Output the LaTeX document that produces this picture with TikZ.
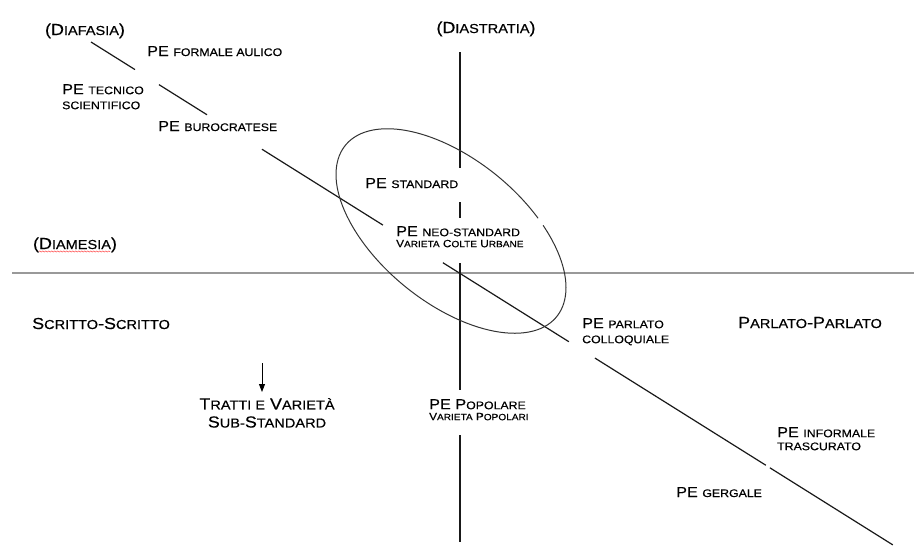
\documentclass[tikz,border=0pt]{standalone}
\usepackage{fontspec}
\setmainfont{Liberation Sans}[FakeStretch=1.12, FakeBold=0.4]
\usetikzlibrary{arrows.meta,decorations.pathmorphing}

\newcommand{\pesmall}[1]{{\fontsize{11}{15}\selectfont #1}}
\newcommand{\catsmall}[1]{{\fontsize{13}{18}\selectfont #1}}
\newcommand{\varline}[1]{{\fontsize{10.5}{11}\selectfont #1}}
\newcommand{\varsmall}[1]{{\fontsize{9}{11}\selectfont #1}}

\tikzset{
    axisline/.style={black!90, line width=1.2pt},
    midline/.style={black!40, line width=1.7pt},
    ringline/.style={black!80, line width=1pt},
    spellmark/.style={red!70, line width=0.5pt, decorate,
        decoration={snake, amplitude=0.6pt, segment length=3pt}},
    catlabel/.style={font=\fontsize{16}{18}\selectfont}
}

\begin{document}
\begin{tikzpicture}[x=1pt, y=-1pt, every node/.style={
    inner sep=0pt,
    align=left,
    text=black,
    font=\fontsize{14.5}{15}\selectfont
}]
    \useasboundingbox (0,0) rectangle (914,547);

    \coordinate (diafasia_start) at (91,42);
    \coordinate (diafasia_end) at (893,545);
    \coordinate (diastratia_top) at (460,52);
    \coordinate (diastratia_bottom) at (460,542);
    \coordinate (diamesia_left) at (12,273);
    \coordinate (diamesia_right) at (914,273);
    \coordinate (arrow_start) at (262,363);



    \node (diafasia) [catlabel, anchor=base, shift={(85,35)}]
    {(D\catsmall{IAFASIA})};
    \node (diastratia) [catlabel, anchor=base, shift={(486,33)}]
    {(D\catsmall{IASTRATIA})};
    \node (diamesia) [catlabel, anchor=base, shift={(75,249)}]
    {(D\catsmall{IAMESIA})};



    \node (pe_formale_aulico) [anchor=base west, shift={(147,56)}]
    {PE \pesmall{FORMALE AULICO}};
    \node (pe_tecnico_scientifico) [anchor=north west, shift={(62,84)}]
    {PE \pesmall{TECNICO}\\\pesmall{SCIENTIFICO}};
    \node (pe_burocratese) [anchor=base west, shift={(158,131)}]
    {PE \pesmall{BUROCRATESE}};
    \node (pe_standard) [anchor=base west, shift={(365,188)}]
    {PE \pesmall{STANDARD}};
    \node (pe_neo_standard) [anchor=north west, font=\fontsize{14.5}{11}\selectfont, shift={(396,226)}]
    {PE \pesmall{NEO-STANDARD}\\\varline{V\varsmall{ARIETA} C\varsmall{OLTE} U\varsmall{RBANE}}};



    \node (scritto_scritto) [catlabel, anchor=base west, shift={(32,329)}]
    {S\catsmall{CRITTO}-S\catsmall{CRITTO}};
    \node (parlato_parlato) [catlabel, anchor=base west, shift={(738,328)}]
    {P\catsmall{ARLATO}-P\catsmall{ARLATO}};
    \node (tratti_sub_standard) [catlabel, align=center, anchor=north, shift={(267,398)}]
    {T\catsmall{RATTI E} V\catsmall{ARIETÀ}\\S\catsmall{UB-}S\catsmall{TANDARD}};



    \node (pe_parlato_colloquiale) [anchor=north west, shift={(582,318)}]
    {PE \pesmall{PARLATO}\\\pesmall{COLLOQUIALE}};
    \node (pe_popolare) [anchor=north west, font=\fontsize{14.5}{11}\selectfont, shift={(429,399)}]
    {PE P\pesmall{OPOLARE}\\\varline{V\varsmall{ARIETA} P\varsmall{OPOLARI}}};
    \node (pe_informale_trascurato) [anchor=north west, font=\fontsize{14.5}{13}\selectfont, shift={(777,427)}]
    {PE \pesmall{INFORMALE}\\\pesmall{TRASCURATO}};
    \node (pe_gergale) [anchor=base west, shift={(676,497)}]
    {PE \pesmall{GERGALE}};



    \draw[midline] (diamesia_left) -- (diamesia_right);
    \draw[axisline, dash pattern=on 116pt off 34pt on 16pt off 45pt on 127pt off 45pt on 107pt]
        (diastratia_top) -- (diastratia_bottom);
    \draw[axisline, dash pattern=on 51.9pt off 28.3pt on 56.7pt off 64.9pt on 142.8pt off 70.8pt on 148.7pt off 30.7pt on 201.8pt off 4.7pt on 145.2pt]
        (diafasia_start) -- (diafasia_end);

    \begin{scope}[shift={(451,231)}, rotate=-39]
        \draw[ringline] (-60:136 and 72) arc [start angle=-60, end angle=296, x radius=136, y radius=72];
    \end{scope}

    \draw[spellmark] ([xshift=6pt, yshift=-2.5pt]diamesia.base west) -- ([xshift=-7pt, yshift=-2.5pt]diamesia.base east);
    \draw[-{Triangle[length=8pt, width=6pt]}, line width=0.9pt, shorten >=6pt] (arrow_start) -- (tratti_sub_standard.north -| arrow_start);

\end{tikzpicture}
\end{document}
